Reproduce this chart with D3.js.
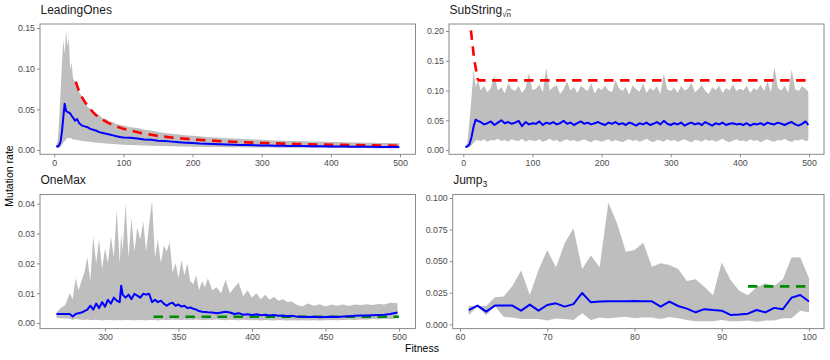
<!DOCTYPE html>
<html>
<head>
<meta charset="utf-8">
<script src="https://cdn.jsdelivr.net/npm/d3@7"></script>
<style>
  html, body { margin: 0; padding: 0; background: #fff; }
  svg text { font-family: "Liberation Sans", Arial, Helvetica, sans-serif; }
</style>
</head>
<body>
<svg id="chart" width="830" height="360"></svg>
<script>
// ---------------- DATA ----------------
// LeadingOnes
const loFitness = [3,5,7,9,11,13,15,17,19,21,23,25,27,30,33,36,40,44,48,52,56,60,65,70,75,80,85,90,95,100,110,120,130,140,150,160,170,180,190,200,210,220,230,240,250,260,270,280,290,300,310,320,330,340,350,360,370,380,390,400,410,420,430,440,450,460,470,480,490,499];
const loMean = [0.005,0.004,0.006,0.010,0.022,0.040,0.057,0.048,0.047,0.046,0.045,0.042,0.040,0.036,0.038,0.033,0.030,0.029,0.028,0.026,0.025,0.024,0.022,0.021,0.020,0.019,0.018,0.017,0.016,0.0155,0.015,0.014,0.013,0.0125,0.0115,0.011,0.0103,0.0096,0.009,0.0085,0.008,0.0077,0.0073,0.007,0.0068,0.0065,0.0063,0.006,0.0058,0.0056,0.0054,0.0052,0.0051,0.005,0.0049,0.0048,0.0047,0.0046,0.0045,0.0044,0.0043,0.0042,0.0041,0.004,0.004,0.0039,0.0038,0.0037,0.0037,0.0036];
const loLow = [0.003,0.003,0.003,0.004,0.006,0.009,0.011,0.013,0.015,0.014,0.015,0.014,0.013,0.013,0.012,0.012,0.011,0.011,0.010,0.010,0.0095,0.009,0.0088,0.0083,0.008,0.0077,0.0073,0.007,0.0068,0.0065,0.0062,0.0058,0.0055,0.0052,0.005,0.0048,0.0046,0.0044,0.0042,0.004,0.0039,0.0038,0.0037,0.0036,0.0035,0.0034,0.0033,0.0032,0.0031,0.003,0.003,0.0029,0.0029,0.0028,0.0028,0.0027,0.0027,0.0026,0.0026,0.0025,0.0025,0.0025,0.0024,0.0024,0.0024,0.0023,0.0023,0.0023,0.0022,0.0022];
const loHigh = [0.006,0.012,0.035,0.07,0.105,0.135,0.118,0.147,0.128,0.138,0.098,0.108,0.088,0.084,0.079,0.071,0.066,0.061,0.053,0.051,0.047,0.045,0.043,0.039,0.038,0.035,0.034,0.032,0.031,0.030,0.028,0.027,0.025,0.024,0.022,0.021,0.020,0.019,0.018,0.0175,0.0168,0.016,0.0155,0.015,0.0145,0.014,0.0137,0.0132,0.0128,0.0125,0.0121,0.0118,0.0116,0.0112,0.011,0.0107,0.0105,0.0103,0.0101,0.0099,0.0097,0.0095,0.0093,0.0092,0.009,0.0089,0.0087,0.0086,0.0085,0.0084];
const loRefFitness = [31,35,40,45,50,60,70,80,90,100,125,150,175,200,250,300,350,400,450,499];
const loRefRate = [0.084,0.074,0.065,0.058,0.052,0.043,0.037,0.0325,0.029,0.026,0.021,0.0173,0.0149,0.013,0.0104,0.0087,0.0074,0.0065,0.0058,0.0052];

// SubString_sqrt(n)
const ssFitness = [3,6,9,12,15,18,21,25,30,35,40,45,50,55,60,65,70,75,80,85,90,95,100,105,110,115,120,125,130,135,140,145,150,155,160,165,170,175,180,185,190,195,200,205,210,215,220,225,230,235,240,245,250,255,260,265,270,275,280,285,290,295,300,305,310,315,320,325,330,335,340,345,350,355,360,365,370,375,380,385,390,395,400,405,410,415,420,425,430,435,440,445,450,455,460,465,470,475,480,485,490,495,499];
const ssMean = [0.005,0.006,0.010,0.022,0.040,0.051,0.049,
  0.047,0.043,0.045,0.048,0.042,0.046,0.050,0.045,0.047,0.044,0.046,0.049,0.040,0.047,0.043,0.045,
  0.044,0.048,0.042,0.046,0.044,0.047,0.043,0.045,0.049,0.044,0.046,0.042,0.045,0.048,0.044,0.046,0.043,0.045,0.047,0.044,
  0.042,0.046,0.044,0.047,0.043,0.045,0.042,0.046,0.044,0.041,0.045,0.043,0.046,0.042,0.044,0.047,0.043,0.049,0.044,0.042,
  0.045,0.043,0.046,0.041,0.044,0.046,0.043,0.045,0.042,0.047,0.044,0.041,0.045,0.043,0.046,0.042,0.044,0.045,0.043,0.044,
  0.042,0.045,0.041,0.044,0.043,0.045,0.042,0.046,0.044,0.043,0.046,0.044,0.042,0.045,0.047,0.043,0.041,0.044,0.048,0.042];
const ssLow = [0.004,0.004,0.005,0.008,0.012,0.016,0.017,
  0.015,0.018,0.014,0.017,0.016,0.019,0.015,0.017,0.014,0.018,0.016,0.015,0.019,0.014,0.017,0.016,
  0.015,0.018,0.014,0.016,0.019,0.015,0.017,0.013,0.016,0.018,0.015,0.017,0.014,0.016,0.018,0.015,0.013,0.017,0.016,0.014,
  0.016,0.018,0.014,0.017,0.015,0.013,0.016,0.018,0.015,0.017,0.014,0.016,0.019,0.015,0.013,0.017,0.016,0.014,0.018,0.015,
  0.017,0.014,0.016,0.018,0.015,0.013,0.017,0.016,0.014,0.018,0.015,0.017,0.014,0.016,0.019,0.015,0.013,0.016,0.018,0.015,
  0.016,0.014,0.018,0.015,0.017,0.013,0.016,0.018,0.015,0.014,0.017,0.016,0.019,0.015,0.014,0.017,0.016,0.018,0.015,0.016];
const ssHigh = [0.006,0.012,0.05,0.09,0.135,0.105,0.12,
  0.10,0.108,0.097,0.104,0.125,0.10,0.106,0.095,0.112,0.102,0.099,0.108,0.096,0.104,0.13,0.101,
  0.103,0.11,0.097,0.138,0.10,0.106,0.109,0.094,0.102,0.115,0.10,0.106,0.096,0.108,0.103,0.099,0.112,0.095,0.105,0.101,
  0.108,0.10,0.097,0.118,0.104,0.099,0.106,0.093,0.109,0.102,0.098,0.112,0.096,0.104,0.10,0.107,0.094,0.128,0.102,0.099,
  0.105,0.096,0.108,0.10,0.103,0.113,0.097,0.102,0.109,0.099,0.094,0.106,0.101,0.108,0.096,0.104,0.10,0.11,0.099,0.103,
  0.10,0.108,0.096,0.104,0.101,0.11,0.099,0.115,0.097,0.14,0.104,0.10,0.108,0.096,0.135,0.102,0.099,0.107,0.103,0.098];
const ssRefFitness = [11,16,21,23,499];
const ssRefRate = [0.201,0.15,0.119,0.117,0.117];

// OneMax
const omFitness = [267,270,273,276,278,280,282,284,286,288,290,292,294,296,298,300,302,304,306,308,310,311,312,314,316,318,320,322,324,326,328,330,332,334,336,338,340,342,344,346,348,350,352,354,356,358,360,362,364,366,368,370,373,376,379,382,385,388,391,394,397,400,403,406,409,412,415,418,421,424,427,430,434,438,442,446,450,454,458,462,466,470,474,478,482,486,490,494,499];
const omMean = [0.003,0.003,0.003,0.003,0.0022,0.003,0.0033,0.0035,0.004,0.0045,0.0058,0.0045,0.0065,0.005,0.007,0.0055,0.0078,0.0065,0.0085,0.0075,0.007,0.0125,0.0095,0.0085,0.0095,0.008,0.0098,0.0092,0.0085,0.0098,0.0095,0.0098,0.007,0.0078,0.007,0.0075,0.0065,0.0058,0.0065,0.0068,0.0058,0.0062,0.0055,0.0058,0.005,0.0052,0.0048,0.0045,0.004,0.0038,0.0037,0.0036,0.0035,0.0033,0.0035,0.0038,0.0035,0.003,0.0033,0.0028,0.0029,0.0027,0.0029,0.0026,0.0028,0.0025,0.0027,0.0024,0.0025,0.0023,0.0024,0.0022,0.0021,0.002,0.0021,0.0019,0.002,0.0021,0.002,0.0022,0.0023,0.0024,0.0025,0.0025,0.0026,0.0027,0.0028,0.003,0.0035];
const omLow = [0.0018,0.0016,0.0015,0.0014,0.001,0.0013,0.0012,0.0011,0.001,0.0012,0.001,0.0009,0.0011,0.001,0.0008,0.001,0.0009,0.0011,0.0008,0.001,0.0009,0.001,0.0008,0.0011,0.0009,0.001,0.0008,0.0011,0.0009,0.001,0.0008,0.0011,0.0009,0.001,0.0008,0.001,0.0011,0.0009,0.001,0.0012,0.001,0.0011,0.0009,0.0012,0.001,0.0011,0.001,0.0012,0.0011,0.001,0.0009,0.0011,0.001,0.0012,0.001,0.0009,0.0011,0.001,0.0009,0.0011,0.001,0.0009,0.001,0.0008,0.001,0.0009,0.0008,0.001,0.0009,0.0008,0.0009,0.0008,0.0009,0.0008,0.0009,0.0008,0.0009,0.001,0.0009,0.001,0.0011,0.001,0.0012,0.0011,0.0013,0.0012,0.0014,0.0013,0.0015];
const omHigh = [0.0035,0.005,0.006,0.01,0.008,0.015,0.011,0.014,0.017,0.022,0.014,0.029,0.02,0.028,0.018,0.025,0.02,0.029,0.022,0.038,0.02,0.03,0.024,0.04,0.022,0.035,0.024,0.032,0.028,0.034,0.024,0.033,0.041,0.022,0.028,0.02,0.026,0.024,0.027,0.017,0.02,0.015,0.021,0.016,0.02,0.014,0.013,0.016,0.011,0.014,0.012,0.015,0.011,0.012,0.01,0.0145,0.01,0.012,0.0135,0.009,0.011,0.0085,0.01,0.008,0.0095,0.0078,0.0088,0.0075,0.008,0.007,0.0072,0.0062,0.0055,0.0065,0.0058,0.0063,0.0055,0.0062,0.0058,0.0062,0.0057,0.0062,0.006,0.0063,0.006,0.0064,0.0062,0.0068,0.0066];
const omRefFitness = [333,500];
const omRefRate = [0.0021,0.0021];

// Jump_3
const jpFitness = [61,62,63,64,65,66,67,68,69,70,71,72,73,74,75,76,77,78,79,80,81,82,83,84,85,86,87,88,89,90,91,92,93,94,95,96,97,98,99,100];
const jpMean = [0.0113,0.0148,0.0100,0.0148,0.0148,0.0148,0.0108,0.0156,0.0108,0.0153,0.0166,0.0140,0.0160,0.0248,0.0174,0.0180,0.0182,0.0182,0.0182,0.0185,0.0182,0.0182,0.0140,0.0180,0.0145,0.0124,0.0095,0.0120,0.0113,0.0108,0.0074,0.0077,0.0084,0.0113,0.0095,0.0130,0.0119,0.0211,0.0232,0.0180];
const jpLow = [0.0071,0.014,0.0071,0.0145,0.006,0.0053,0.0042,0.0042,0.0042,0.003,0.0045,0.0042,0.0034,0.0087,0.0034,0.0053,0.0047,0.0053,0.006,0.0047,0.0053,0.0053,0.0042,0.0058,0.0047,0.0034,0.0024,0.0024,0.0024,0.0034,0.0024,0.0024,0.003,0.0021,0.003,0.003,0.0047,0.0047,0.0108,0.0095];
const jpHigh = [0.0145,0.0145,0.0145,0.0214,0.022,0.0303,0.0425,0.0232,0.043,0.0588,0.0451,0.0641,0.076,0.0438,0.0544,0.0451,0.0963,0.08,0.0575,0.0588,0.0646,0.0456,0.0483,0.047,0.0438,0.0343,0.0356,0.0298,0.023,0.049,0.0351,0.0266,0.023,0.0293,0.0325,0.0303,0.0356,0.0528,0.053,0.0364];
const jpRefFitness = [93,100];
const jpRefRate = [0.030,0.030];

// Tick labels
const loXTicks = [0,100,200,300,400,500];
const loYTicks = [0,0.05,0.10,0.15];
const ssXTicks = [0,100,200,300,400,500];
const ssYTicks = [0,0.05,0.10,0.15,0.20];
const omXTicks = [300,350,400,450,500];
const omYTicks = [0,0.01,0.02,0.03,0.04];
const jpXTicks = [60,70,80,90,100];
const jpYTicks = [0,0.025,0.05,0.075,0.10];

// ---------------- DRAW ----------------
const svg = d3.select("#chart");
const zip = (xs, ...cols) => xs.slice(0, Math.min(xs.length, ...cols.map(c => c.length)))
  .map((x, i) => ({x, v: cols.map(c => c[i])}));

const panels = [
  {title: "LeadingOnes", sub: null, frame: [40, 24, 415.5, 154.3], xr: [54.3, 400], xd: [0, 500], yr: [150, 28], yd: [0, 0.15],
   fx: loFitness, mean: loMean, low: loLow, high: loHigh, rx: loRefFitness, ry: loRefRate, refColor: "#FF0000",
   xt: loXTicks, yt: loYTicks, yf: d3.format(".2f"), xf: d3.format("d")},
  {title: "SubString", sub: "sqrt", frame: [449, 24, 824, 154.3], xr: [463.3, 809], xd: [0, 500], yr: [150, 31], yd: [0, 0.2],
   fx: ssFitness, mean: ssMean, low: ssLow, high: ssHigh, rx: ssRefFitness, ry: ssRefRate, refColor: "#FF0000",
   xt: ssXTicks, yt: ssYTicks, yf: d3.format(".2f"), xf: d3.format("d")},
  {title: "OneMax", sub: null, frame: [40, 194.5, 415.5, 328.6], xr: [105, 399], xd: [300, 500], yr: [323, 203.7], yd: [0, 0.04],
   fx: omFitness, mean: omMean, low: omLow, high: omHigh, rx: omRefFitness, ry: omRefRate, refColor: "#008B00",
   xt: omXTicks, yt: omYTicks, yf: d3.format(".2f"), xf: d3.format("d")},
  {title: "Jump", sub: "3", frame: [452.7, 194.5, 824, 328.6], xr: [460, 809], xd: [60, 100], yr: [324.3, 198], yd: [0, 0.1],
   fx: jpFitness, mean: jpMean, low: jpLow, high: jpHigh, rx: jpRefFitness, ry: jpRefRate, refColor: "#008B00",
   xt: jpXTicks, yt: jpYTicks, yf: d3.format(".3f"), xf: d3.format("d")}
];

const frameColor = "#8a8a8a";
const tickText = "#4d4d4d";

panels.forEach((p, idx) => {
  const [x0, y0, x1, y1] = p.frame;
  const x = d3.scaleLinear().domain(p.xd).range(p.xr);
  const y = d3.scaleLinear().domain(p.yd).range(p.yr);
  const g = svg.append("g");

  const clipId = "clip" + idx;
  svg.append("clipPath").attr("id", clipId).append("rect")
    .attr("x", x0).attr("y", y0).attr("width", x1 - x0).attr("height", y1 - y0);
  const plot = g.append("g").attr("clip-path", `url(#${clipId})`);

  const band = zip(p.fx, p.low, p.high);
  plot.append("path").datum(band)
    .attr("d", d3.area().x(d => x(d.x)).y0(d => y(d.v[0])).y1(d => y(d.v[1])))
    .attr("fill", "#BEBEBE").attr("stroke", "none");

  const ref = zip(p.rx, p.ry);
  plot.append("path").datum(ref)
    .attr("d", d3.line().x(d => x(d.x)).y(d => y(d.v[0])))
    .attr("fill", "none").attr("stroke", p.refColor).attr("stroke-width", 2.6)
    .attr("stroke-dasharray", "9.5,6.5");

  const mean = zip(p.fx, p.mean);
  plot.append("path").datum(mean)
    .attr("d", d3.line().x(d => x(d.x)).y(d => y(d.v[0])))
    .attr("fill", "none").attr("stroke", "#0000FF").attr("stroke-width", 2)
    .attr("stroke-linejoin", "round");

  // frame
  g.append("rect").attr("x", x0).attr("y", y0).attr("width", x1 - x0).attr("height", y1 - y0)
    .attr("fill", "none").attr("stroke", frameColor).attr("stroke-width", 1);

  // axes
  const xa = g.append("g").attr("transform", `translate(0,${y1})`)
    .call(d3.axisBottom(x).tickValues(p.xt).tickFormat(p.xf).tickSize(3).tickPadding(2.5));
  const ya = g.append("g").attr("transform", `translate(${x0},0)`)
    .call(d3.axisLeft(y).tickValues(p.yt).tickFormat(p.yf).tickSize(3).tickPadding(2));
  [xa, ya].forEach(a => {
    a.select(".domain").remove();
    a.selectAll(".tick line").attr("stroke", frameColor);
    a.selectAll(".tick text").attr("fill", tickText).style("font-size", "8.8px")
      .style("font-family", '"Liberation Sans", Arial, sans-serif');
  });

  // title
  const t = g.append("text").attr("x", x0 + 0.5).attr("y", y0 - 10.5)
    .attr("fill", "#1a1a1a").style("font-size", "12px").text(p.title);
  if (p.sub === "3") {
    t.append("tspan").attr("dy", 3).style("font-size", "8.5px").text("3");
  } else if (p.sub === "sqrt") {
    t.append("tspan").attr("dy", 3).style("font-size", "8px").text("√");
    t.append("tspan").style("font-size", "8px").style("text-decoration", "overline").text("n");
  }
});

// axis titles
svg.append("text").attr("transform", "translate(12.5,176) rotate(-90)")
  .attr("text-anchor", "middle").attr("fill", "#000").style("font-size", "10.5px").text("Mutation rate");
svg.append("text").attr("x", 422).attr("y", 351.5)
  .attr("text-anchor", "middle").attr("fill", "#000").style("font-size", "10.5px").text("Fitness");
</script>
</body>
</html>
